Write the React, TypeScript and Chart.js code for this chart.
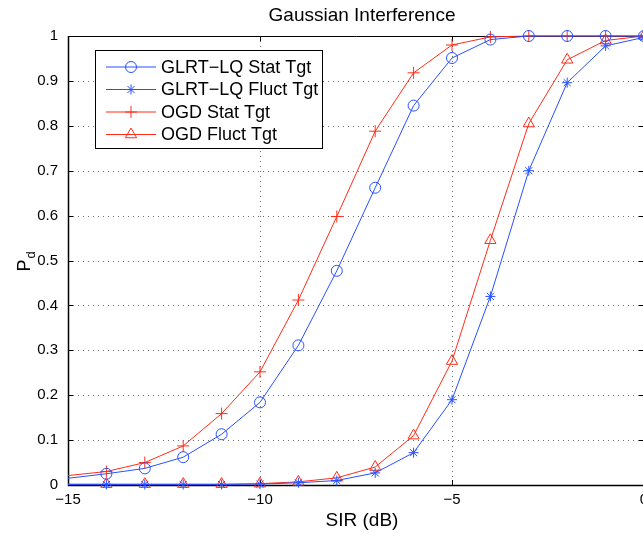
import React, { useEffect, useRef } from "react";
import { Chart, registerables } from "chart.js";
import { drawPoint } from "chart.js/helpers";

Chart.register(...registerables);

const sirValues = [-15, -14, -13, -12, -11, -10, -9, -8, -7, -6, -5, -4, -3, -2, -1, 0];
const glrtStat = [0.015, 0.025, 0.037, 0.062, 0.113, 0.184, 0.311, 0.477, 0.662, 0.845, 0.951, 0.992, 1.0, 1.0, 1.0, 1.0];
const glrtFluct = [0.001, 0.001, 0.001, 0.001, 0.001, 0.002, 0.005, 0.01, 0.027, 0.072, 0.19, 0.42, 0.70, 0.896, 0.978, 0.997];
const ogdStat = [0.021, 0.03, 0.05, 0.087, 0.159, 0.252, 0.412, 0.598, 0.788, 0.918, 0.98, 0.998, 1.0, 1.0, 1.0, 1.0];
const ogdFluct = [0.002, 0.002, 0.002, 0.002, 0.002, 0.003, 0.007, 0.016, 0.04, 0.11, 0.276, 0.545, 0.805, 0.947, 0.99, 1.0];

const seriesNames = ["GLRT\u2212LQ Stat Tgt", "GLRT\u2212LQ Fluct Tgt", "OGD Stat Tgt", "OGD Fluct Tgt"];
const xTicks = [-15, -10, -5, 0];

const BLUE = "rgb(40,80,255)";
const RED = "rgb(255,45,25)";
const FONT = "'Liberation Sans', Arial, Helvetica, sans-serif";

const styles = [
  { color: BLUE, pointStyle: "circle", radius: 5.5 },
  { color: BLUE, pointStyle: "star", radius: 5 },
  { color: RED, pointStyle: "cross", radius: 6 },
  { color: RED, pointStyle: "triangle", radius: 6.5 },
];

const fmtMinus = (v: number) => (v < 0 ? "\u2212" + Math.abs(v) : String(v));

const decorPlugin = {
  id: "decor",
  beforeDatasetsDraw(chart: any) {
    const { ctx, chartArea: a, scales } = chart;
    const xs = scales.x;
    const ys = scales.y;
    ctx.save();
    // grid
    ctx.strokeStyle = "rgba(60,60,60,0.75)";
    ctx.lineWidth = 1;
    ctx.setLineDash([1, 4]);
    for (let v = 0.1; v < 1.0001; v += 0.1) {
      const y = Math.round(ys.getPixelForValue(v)) + 0.5;
      ctx.beginPath();
      ctx.moveTo(a.left, y);
      ctx.lineTo(a.right, y);
      ctx.stroke();
    }
    for (const t of xTicks) {
      const x = Math.round(xs.getPixelForValue(t)) + 0.5;
      ctx.beginPath();
      ctx.moveTo(x, a.top);
      ctx.lineTo(x, a.bottom);
      ctx.stroke();
    }
    ctx.setLineDash([]);
    // box
    ctx.strokeStyle = "#000";
    ctx.lineWidth = 1;
    ctx.beginPath();
    ctx.moveTo(a.left + 0.5, a.top + 0.5);
    ctx.lineTo(a.right + 0.5, a.top + 0.5);
    ctx.lineTo(a.right + 0.5, a.bottom);
    ctx.stroke();
    ctx.lineWidth = 1.5;
    ctx.beginPath();
    ctx.moveTo(a.left + 0.5, a.top);
    ctx.lineTo(a.left + 0.5, a.bottom + 0.5);
    ctx.lineTo(a.right + 1, a.bottom + 0.5);
    ctx.stroke();
    // inward ticks
    ctx.lineWidth = 1;
    const tl = 5;
    for (let i = 0; i <= 10; i++) {
      const y = Math.round(ys.getPixelForValue(i / 10)) + 0.5;
      ctx.beginPath();
      ctx.moveTo(a.left, y);
      ctx.lineTo(a.left + tl, y);
      ctx.moveTo(a.right, y);
      ctx.lineTo(a.right - tl, y);
      ctx.stroke();
    }
    for (const t of xTicks) {
      const x = Math.round(xs.getPixelForValue(t)) + 0.5;
      ctx.beginPath();
      ctx.moveTo(x, a.bottom);
      ctx.lineTo(x, a.bottom - tl);
      ctx.moveTo(x, a.top);
      ctx.lineTo(x, a.top + tl);
      ctx.stroke();
    }
    // texts
    ctx.fillStyle = "#000";
    const cx = (a.left + a.right) / 2;
    ctx.textAlign = "center";
    ctx.textBaseline = "middle";
    ctx.font = `19px ${FONT}`;
    ctx.fillText("Gaussian Interference", cx + 6, 16);
    ctx.fillText("SIR (dB)", cx + 6, 521);
    // y label P_d
    ctx.save();
    ctx.translate(24, 262);
    ctx.rotate(-Math.PI / 2);
    ctx.textAlign = "left";
    ctx.textBaseline = "alphabetic";
    ctx.font = `18px ${FONT}`;
    const pw = ctx.measureText("P").width;
    ctx.font = `13px ${FONT}`;
    const dw = ctx.measureText("d").width;
    const start = -(pw + dw) / 2;
    ctx.font = `18px ${FONT}`;
    ctx.fillText("P", start, 6);
    ctx.font = `13px ${FONT}`;
    ctx.fillText("d", start + pw + 1, 11);
    ctx.restore();
    ctx.restore();
  },
  afterDatasetsDraw(chart: any) {
    const { ctx } = chart;
    ctx.save();
    const bx = 95.5, by = 50.5, bw = 227, bh = 98;
    ctx.fillStyle = "#fff";
    ctx.fillRect(bx, by, bw, bh);
    ctx.strokeStyle = "#000";
    ctx.lineWidth = 1;
    ctx.strokeRect(bx, by, bw, bh);
    const rows = [67, 89.5, 112, 134.5];
    ctx.font = `18px ${FONT}`;
    ctx.textBaseline = "middle";
    ctx.textAlign = "left";
    for (let i = 0; i < 4; i++) {
      const s = styles[i];
      const y = rows[i];
      ctx.strokeStyle = s.color;
      ctx.lineWidth = 1;
      ctx.beginPath();
      ctx.moveTo(106, y);
      ctx.lineTo(156, y);
      ctx.stroke();
      ctx.fillStyle = "rgba(0,0,0,0)";
      drawPoint(ctx, { pointStyle: s.pointStyle, radius: s.radius, borderWidth: 1, rotation: 0 } as any, 131, y);
      ctx.fillStyle = "#000";
      ctx.fillText(seriesNames[i], 161, y + 1);
    }
    ctx.restore();
  },
};

export default function App() {
  const ref = useRef<HTMLCanvasElement | null>(null);
  useEffect(() => {
    if (!ref.current) return;
    const all = [glrtStat, glrtFluct, ogdStat, ogdFluct];
    const chart = new Chart(ref.current, {
      type: "line",
      data: {
        datasets: all.map((arr, i) => ({
          label: seriesNames[i],
          data: sirValues.map((x, j) => ({ x, y: arr[j] })),
          borderColor: styles[i].color,
          backgroundColor: "rgba(0,0,0,0)",
          borderWidth: 1,
          pointStyle: styles[i].pointStyle as any,
          pointRadius: (c: any) => (c.dataIndex === 0 ? 0 : styles[i].radius),
          pointBorderColor: styles[i].color,
          pointBackgroundColor: "rgba(0,0,0,0)",
          pointBorderWidth: 1,
          tension: 0,
          clip: false as any,
        })),
      },
      options: {
        responsive: false,
        animation: false,
        devicePixelRatio: 1,
        layout: { padding: { left: 0, right: 56, top: 36, bottom: 0 } },
        plugins: {
          legend: { display: false },
          title: { display: false },
          tooltip: { enabled: false },
        },
        scales: {
          x: {
            type: "linear",
            min: -15,
            max: 0,
            afterBuildTicks: (s: any) => {
              s.ticks = xTicks.map((v) => ({ value: v }));
            },
            afterFit: (s: any) => {
              s.height = 48;
            },
            grid: { display: false, drawTicks: false },
            border: { display: false },
            ticks: {
              padding: 6,
              color: "#000",
              font: { family: FONT, size: 15 },
              maxRotation: 0,
              autoSkip: false,
              callback: (v: any) => fmtMinus(Number(v)),
            },
          },
          y: {
            type: "linear",
            min: 0,
            max: 1,
            afterBuildTicks: (s: any) => {
              const t = [];
              for (let i = 0; i <= 10; i++) t.push({ value: i / 10 });
              s.ticks = t;
            },
            afterFit: (s: any) => {
              s.width = 68;
            },
            grid: { display: false, drawTicks: false },
            border: { display: false },
            ticks: {
              padding: 10,
              color: "#000",
              font: { family: FONT, size: 15 },
              autoSkip: false,
              callback: (v: any) => {
                const n = Math.round(Number(v) * 10) / 10;
                return String(n);
              },
            },
          },
        },
      },
      plugins: [decorPlugin],
    });
    return () => chart.destroy();
  }, []);
  return (
    <div style={{ position: "fixed", left: 0, top: 0, width: 700, height: 533, overflow: "hidden", background: "#fff" }}>
      <canvas ref={ref} width={700} height={533} style={{ width: 700, height: 533, display: "block" }} />
    </div>
  );
}
